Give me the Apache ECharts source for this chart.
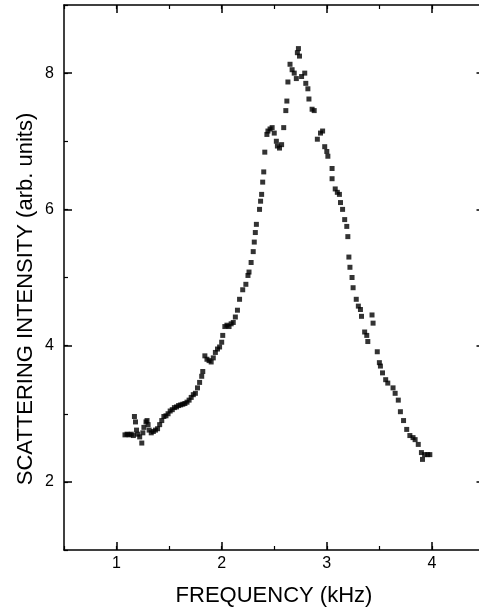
<!DOCTYPE html>
<html>
<head>
<meta charset="utf-8">
<title>Scattering intensity</title>
<script src="https://cdn.jsdelivr.net/npm/echarts@6/dist/echarts.min.js"></script>
<style>
  html, body { margin: 0; padding: 0; background: #fff; }
  #main { width: 479px; height: 609px; }
</style>
</head>
<body>
<div id="main"></div>
<script>
// measured points (kHz, arb. units)
var freq = [
  1.08, 1.10, 1.12, 1.14, 1.16, 1.17, 1.18, 1.19, 1.20, 1.22,
  1.24, 1.25, 1.26, 1.28, 1.29, 1.30, 1.31, 1.33, 1.35, 1.37,
  1.39, 1.41, 1.43, 1.45, 1.47, 1.49, 1.51, 1.53, 1.55, 1.57,
  1.59, 1.61, 1.63, 1.65, 1.67, 1.69, 1.71, 1.73, 1.75, 1.77,
  1.79, 1.81, 1.82, 1.84, 1.86, 1.88, 1.90, 1.92, 1.94, 1.96,
  1.98, 2.00, 2.01, 2.03, 2.05, 2.07, 2.09, 2.11, 2.13, 2.15,
  2.17, 2.20, 2.23, 2.25, 2.26, 2.28, 2.30, 2.31, 2.32, 2.33,
  2.36, 2.37, 2.38, 2.39, 2.40, 2.41, 2.43, 2.44, 2.46, 2.48,
  2.50, 2.52, 2.53, 2.55, 2.57, 2.59, 2.61, 2.62, 2.63, 2.65,
  2.67, 2.69, 2.71, 2.72, 2.73, 2.74, 2.76, 2.79, 2.80, 2.82,
  2.83, 2.86, 2.88, 2.91, 2.94, 2.96, 2.98, 3.00, 3.01, 3.05,
  3.05, 3.08, 3.10, 3.12, 3.13, 3.15, 3.17, 3.19, 3.20, 3.21,
  3.22, 3.24, 3.25, 3.28, 3.30, 3.32, 3.33, 3.36, 3.38, 3.39,
  3.43, 3.44, 3.48, 3.50, 3.51, 3.53, 3.56, 3.58, 3.63, 3.65,
  3.68, 3.70, 3.73, 3.76, 3.79, 3.82, 3.84, 3.87, 3.90, 3.91,
  3.93, 3.96, 3.98
];
var intensity = [
  2.69, 2.70, 2.69, 2.70, 2.68, 2.96, 2.88, 2.76, 2.70, 2.66,
  2.57, 2.72, 2.80, 2.88, 2.90, 2.84, 2.76, 2.72, 2.74, 2.76,
  2.78, 2.84, 2.90, 2.96, 2.97, 3.00, 3.04, 3.06, 3.09, 3.10,
  3.12, 3.13, 3.14, 3.15, 3.17, 3.20, 3.24, 3.28, 3.30, 3.38,
  3.46, 3.55, 3.62, 3.85, 3.80, 3.78, 3.76, 3.82, 3.90, 3.95,
  3.98, 4.05, 4.15, 4.28, 4.30, 4.28, 4.32, 4.34, 4.42, 4.52,
  4.68, 4.82, 4.90, 5.03, 5.08, 5.22, 5.38, 5.52, 5.66, 5.78,
  6.00, 6.12, 6.22, 6.40, 6.55, 6.84, 7.10, 7.15, 7.18, 7.20,
  7.12, 7.00, 6.93, 6.90, 6.95, 7.20, 7.45, 7.59, 7.87, 8.13,
  8.05, 8.00, 7.92, 8.30, 8.36, 8.25, 7.95, 8.00, 7.85, 7.77,
  7.62, 7.47, 7.45, 7.03, 7.12, 7.15, 6.92, 6.85, 6.78, 6.60,
  6.45, 6.30, 6.25, 6.22, 6.10, 6.00, 5.85, 5.75, 5.60, 5.30,
  5.15, 5.00, 4.85, 4.68, 4.58, 4.53, 4.43, 4.20, 4.15, 4.06,
  4.45, 4.33, 3.91, 3.75, 3.70, 3.60, 3.50, 3.45, 3.38, 3.30,
  3.20, 3.03, 2.90, 2.77, 2.68, 2.65, 2.62, 2.55, 2.43, 2.33,
  2.40, 2.40, 2.40
];
var xTicks = [1, 2, 3, 4];
var yTicks = [2, 4, 6, 8];
var xTitle = 'FREQUENCY (kHz)';
var yTitle = 'SCATTERING INTENSITY (arb. units)';

var points = [];
for (var i = 0; i < freq.length; i++) {
  points.push([freq[i], intensity[i]]);
}

var FONT = "'Liberation Sans', Arial, sans-serif";
// right edge of the frame sits just past the canvas, like the cropped original
var box = { left: 64, right: -5.5, top: 5, bottom: 59, outerBoundsMode: 'none', containLabel: false };

// minor ticks + frame (grid 0), major ticks + labels (grid 1)
function xAx(grid, pos, major) {
  return {
    type: 'value', gridIndex: grid, position: pos,
    min: 0.5, max: 4.5, interval: 0.5,
    axisLine: { show: !major, lineStyle: { color: '#000', width: 1.5 } },
    axisTick: major
      ? { show: true, inside: true, length: 8, customValues: xTicks, lineStyle: { color: '#000', width: 1.5 } }
      : { show: true, inside: true, length: 4, lineStyle: { color: '#000', width: 1.2 } },
    axisLabel: (major && pos === 'bottom')
      ? { show: true, customValues: xTicks, margin: 6, fontSize: 16, fontFamily: FONT, color: '#000' }
      : { show: false },
    splitLine: { show: false }
  };
}
function yAx(grid, pos, major) {
  return {
    type: 'value', gridIndex: grid, position: pos,
    min: 1, max: 9, interval: 1,
    axisLine: { show: !major, lineStyle: { color: '#000', width: 1.5 } },
    axisTick: major
      ? { show: true, inside: true, length: 8, customValues: yTicks, lineStyle: { color: '#000', width: 1.5 } }
      : { show: true, inside: true, length: 4, lineStyle: { color: '#000', width: 1.2 } },
    axisLabel: (major && pos === 'left')
      ? { show: true, customValues: yTicks, margin: 10, fontSize: 16, fontFamily: FONT, color: '#000' }
      : { show: false },
    splitLine: { show: false }
  };
}

var option = {
  animation: false,
  backgroundColor: '#fff',
  grid: [box, box],
  xAxis: [xAx(0, 'bottom', false), xAx(0, 'top', false), xAx(1, 'bottom', true), xAx(1, 'top', true)],
  yAxis: [yAx(0, 'left', false), yAx(0, 'right', false), yAx(1, 'left', true), yAx(1, 'right', true)],
  graphic: [
    {
      type: 'text', x: 274, y: 596,
      style: { text: xTitle, font: '22px ' + FONT, fill: '#000', textAlign: 'center', textVerticalAlign: 'middle' }
    },
    {
      type: 'text', x: 26, y: 299, rotation: Math.PI / 2,
      style: { text: yTitle, font: '22px ' + FONT, fill: '#000', textAlign: 'center', textVerticalAlign: 'middle' }
    }
  ],
  series: [{
    type: 'scatter',
    xAxisIndex: 0,
    yAxisIndex: 0,
    data: points,
    symbol: 'rect',
    symbolSize: 5,
    itemStyle: { color: '#000' }
  }]
};

var chart = echarts.init(document.getElementById('main'), null, { renderer: 'canvas' });
chart.setOption(option);
</script>
</body>
</html>
